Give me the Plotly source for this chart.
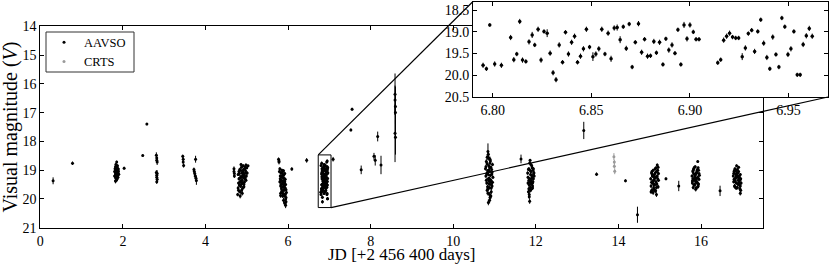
import plotly.graph_objects as go

# ---------------- data (JD - 2456400, V magnitude, 1-sigma error) ----------------
# isolated AAVSO points and small groups
sparse_jd = [0.31, 0.78, 2.03, 2.48, 2.58,
             2.81, 2.82, 2.82, 2.83, 2.81, 2.82, 2.82, 2.83, 2.82, 2.83,
             3.45, 3.46, 3.46, 3.47,
             3.76, 3.72, 3.73, 3.74, 3.75, 3.77, 3.78,
             4.69, 4.69, 4.70, 4.70,
             6.09, 6.45, 7.09, 7.52, 7.55, 7.77, 8.08, 8.11, 8.17, 8.25,
             8.59, 8.59, 8.60, 8.60, 8.59, 8.60,
             11.64, 13.16, 13.47, 14.17, 14.46, 15.15, 15.46, 16.46]
sparse_mag = [19.37, 18.76, 18.93, 18.49, 17.40,
              18.48, 18.58, 18.66, 18.72, 19.08, 19.18, 19.25, 19.32, 19.40, 19.12,
              18.52, 18.62, 18.72, 18.84,
              18.62, 18.98, 19.05, 19.12, 19.20, 19.28, 19.36,
              18.95, 19.05, 19.12, 19.20,
              18.96, 18.66, 18.62, 17.60, 16.88, 18.99, 18.52, 18.66, 17.83, 18.82,
              16.36, 16.56, 16.79, 17.00, 17.72, 17.86,
              18.61, 17.62, 19.14, 19.37, 20.55, 19.30, 19.55, 19.72]
sparse_err = [0.12, 0.06, 0.05, 0.04, 0.04,
              0.10, 0.12, 0.08, 0.10, 0.08, 0.10, 0.08, 0.10, 0.08, 0.12,
              0.06, 0.07, 0.06, 0.07,
              0.12, 0.07, 0.08, 0.07, 0.08, 0.12, 0.15,
              0.08, 0.07, 0.08, 0.07,
              0.06, 0.08, 0.08, 0.05, 0.05, 0.15, 0.12, 0.18, 0.17, 0.32,
              0.72, 0.50, 0.60, 0.90, 1.00, 0.60,
              0.15, 0.30, 0.06, 0.05, 0.28, 0.05, 0.18, 0.18]

# night around JD 1.85
n1_jd = [1.80, 1.81, 1.81, 1.82, 1.82, 1.83, 1.83, 1.83, 1.84, 1.84,
         1.84, 1.85, 1.85, 1.85, 1.86, 1.86, 1.86, 1.87, 1.87, 1.87,
         1.88, 1.88, 1.89, 1.89, 1.90, 1.80, 1.82, 1.85, 1.88, 1.84]
n1_mag = [19.05, 18.95, 19.20, 19.10, 18.88, 19.28, 19.02, 18.80, 19.15, 19.35,
          18.98, 19.08, 18.72, 19.22, 19.12, 18.92, 19.30, 19.00, 19.18, 18.85,
          19.10, 19.25, 19.05, 18.96, 19.14, 19.20, 19.38, 18.90, 19.02, 19.12]
n1_err = [0.06, 0.05, 0.07, 0.06, 0.05, 0.08, 0.06, 0.05, 0.06, 0.07,
          0.05, 0.06, 0.05, 0.07, 0.06, 0.05, 0.08, 0.06, 0.06, 0.05,
          0.06, 0.07, 0.06, 0.05, 0.06, 0.07, 0.08, 0.05, 0.06, 0.06]

# night around JD 4.9
n4_jd = [4.78, 4.79, 4.80, 4.81, 4.82, 4.83, 4.84, 4.85, 4.86, 4.87,
         4.88, 4.89, 4.90, 4.91, 4.92, 4.93, 4.94, 4.95, 4.96, 4.97,
         4.98, 4.99, 5.00, 5.01, 4.80, 4.82, 4.84, 4.86, 4.88, 4.90,
         4.92, 4.94, 4.96, 4.98, 4.81, 4.83, 4.85, 4.87, 4.89, 4.91,
         4.93, 4.95, 4.79, 4.84, 4.86, 4.90, 5.03, 4.97, 4.88, 4.92]
n4_mag = [19.85, 19.62, 19.45, 19.30, 19.12, 18.98, 19.40, 19.55, 19.22, 18.90,
          19.68, 19.35, 19.05, 18.85, 19.25, 19.50, 19.15, 18.95, 19.30, 19.08,
          18.82, 19.20, 18.92, 19.10, 19.70, 19.52, 19.75, 19.38, 19.10, 19.62,
          18.98, 19.42, 18.88, 19.35, 19.05, 19.28, 19.00, 19.48, 19.80, 19.18,
          19.58, 19.25, 19.15, 19.90, 18.80, 19.45, 18.85, 19.02, 19.25, 19.12]
n4_err = [0.06, 0.07, 0.05, 0.06, 0.08, 0.05, 0.06, 0.07, 0.06, 0.05,
          0.08, 0.06, 0.05, 0.06, 0.07, 0.06, 0.05, 0.06, 0.07, 0.05,
          0.05, 0.06, 0.05, 0.06, 0.08, 0.06, 0.07, 0.06, 0.05, 0.07,
          0.05, 0.06, 0.05, 0.06, 0.05, 0.06, 0.05, 0.07, 0.08, 0.06,
          0.07, 0.06, 0.05, 0.08, 0.05, 0.06, 0.04, 0.05, 0.06, 0.05]

# night around JD 5.9
n5_jd = [5.77, 5.78, 5.79, 5.80, 5.80, 5.81, 5.82, 5.82, 5.83, 5.84,
         5.84, 5.85, 5.85, 5.86, 5.86, 5.87, 5.87, 5.88, 5.88, 5.89,
         5.89, 5.90, 5.90, 5.91, 5.91, 5.92, 5.92, 5.93, 5.93, 5.94,
         5.94, 5.95, 5.95, 5.96, 5.78, 5.81, 5.83, 5.85, 5.87, 5.89,
         5.91, 5.93, 5.95, 5.82, 5.86, 5.90, 5.94, 5.88, 5.84, 5.92]
n5_mag = [18.62, 18.72, 19.05, 18.95, 19.40, 19.20, 19.55, 19.80, 19.10, 19.35,
          19.65, 19.00, 19.48, 19.25, 19.75, 19.90, 19.15, 19.58, 19.38, 20.05,
          19.02, 19.70, 19.28, 19.88, 19.45, 20.15, 19.12, 19.62, 19.85, 20.22,
          19.50, 19.95, 20.10, 19.78, 18.68, 19.30, 19.50, 19.72, 19.42, 19.18,
          19.60, 19.32, 19.68, 19.88, 19.08, 19.52, 20.00, 19.82, 19.22, 19.40]
n5_err = [0.06, 0.08, 0.06, 0.05, 0.07, 0.06, 0.08, 0.07, 0.05, 0.06,
          0.07, 0.05, 0.06, 0.06, 0.08, 0.07, 0.05, 0.06, 0.06, 0.09,
          0.05, 0.07, 0.06, 0.08, 0.06, 0.10, 0.05, 0.07, 0.08, 0.10,
          0.06, 0.08, 0.09, 0.07, 0.06, 0.05, 0.06, 0.07, 0.06, 0.05,
          0.07, 0.06, 0.07, 0.08, 0.05, 0.06, 0.09, 0.07, 0.05, 0.06]

# night around JD 10.9
n10_jd = [10.78, 10.79, 10.80, 10.81, 10.82, 10.83, 10.84, 10.85, 10.86, 10.87,
          10.88, 10.89, 10.90, 10.91, 10.92, 10.93, 10.94, 10.95, 10.96, 10.80,
          10.82, 10.84, 10.86, 10.88, 10.90, 10.92, 10.94, 10.79, 10.81, 10.83,
          10.85, 10.87, 10.89, 10.91, 10.93, 10.95, 10.84, 10.86, 10.88, 10.90,
          10.82, 10.85, 10.87, 10.89, 10.91, 10.83, 10.86, 10.92, 10.88, 10.85]
n10_mag = [18.95, 19.20, 18.70, 19.45, 18.55, 19.10, 18.35, 19.30, 18.85, 19.60,
           19.05, 18.62, 19.40, 18.90, 19.75, 19.15, 19.55, 18.80, 19.25, 19.35,
           18.78, 19.65, 19.00, 19.85, 18.68, 19.50, 19.08, 18.88, 19.12, 19.58,
           18.45, 19.28, 19.95, 19.35, 18.98, 19.42, 19.80, 18.58, 20.05, 19.18,
           19.70, 20.12, 19.48, 18.75, 19.90, 19.02, 19.38, 19.62, 18.92, 19.15]
n10_err = [0.06, 0.07, 0.08, 0.06, 0.10, 0.06, 0.28, 0.07, 0.06, 0.08,
           0.05, 0.09, 0.07, 0.06, 0.08, 0.05, 0.07, 0.06, 0.06, 0.07,
           0.08, 0.07, 0.05, 0.09, 0.08, 0.06, 0.05, 0.07, 0.06, 0.07,
           0.10, 0.06, 0.09, 0.07, 0.05, 0.06, 0.08, 0.09, 0.10, 0.06,
           0.08, 0.10, 0.06, 0.07, 0.09, 0.05, 0.06, 0.07, 0.06, 0.05]

# night around JD 11.9
n11_jd = [11.80, 11.81, 11.82, 11.83, 11.84, 11.85, 11.86, 11.87, 11.88, 11.89,
          11.90, 11.91, 11.92, 11.93, 11.94, 11.95, 11.96, 11.81, 11.83, 11.85,
          11.87, 11.89, 11.91, 11.93, 11.95, 11.82, 11.84, 11.86, 11.88, 11.90,
          11.92, 11.94, 11.84, 11.86, 11.83, 11.85, 11.88, 11.90, 11.87, 11.92]
n11_mag = [19.10, 19.45, 19.75, 18.95, 19.92, 19.30, 18.66, 19.60, 19.05, 19.38,
           18.85, 19.22, 19.55, 19.00, 19.30, 19.12, 19.20, 19.25, 19.65, 20.08,
           19.15, 19.48, 18.92, 19.40, 19.08, 18.98, 19.52, 19.70, 18.80, 19.28,
           19.62, 18.95, 19.85, 19.42, 19.35, 18.75, 19.68, 19.18, 19.02, 19.45]
n11_err = [0.06, 0.07, 0.08, 0.05, 0.09, 0.06, 0.05, 0.07, 0.06, 0.06,
           0.05, 0.06, 0.07, 0.05, 0.06, 0.05, 0.06, 0.06, 0.08, 0.09,
           0.05, 0.07, 0.05, 0.06, 0.05, 0.05, 0.07, 0.08, 0.05, 0.06,
           0.07, 0.05, 0.08, 0.06, 0.06, 0.05, 0.08, 0.06, 0.05, 0.07]

# night around JD 14.9
n14_jd = [14.78, 14.79, 14.80, 14.81, 14.82, 14.83, 14.84, 14.85, 14.86, 14.87,
          14.88, 14.89, 14.90, 14.91, 14.92, 14.93, 14.94, 14.95, 14.96, 14.97,
          14.79, 14.81, 14.83, 14.85, 14.87, 14.89, 14.91, 14.93, 14.95, 14.97,
          14.80, 14.84, 14.88, 14.92, 14.96, 14.82, 14.86, 14.90, 14.94, 14.92]
n14_mag = [19.30, 19.55, 19.10, 19.70, 19.20, 19.45, 19.00, 19.62, 19.35, 19.15,
           19.50, 18.95, 19.25, 19.40, 19.85, 19.05, 18.82, 19.30, 19.58, 19.12,
           19.75, 19.05, 19.38, 19.22, 19.68, 19.10, 18.92, 19.48, 19.00, 19.35,
           19.42, 19.78, 19.28, 19.60, 18.90, 19.15, 19.52, 19.72, 19.20, 19.05]
n14_err = [0.06, 0.07, 0.05, 0.08, 0.06, 0.07, 0.05, 0.07, 0.06, 0.05,
           0.07, 0.05, 0.06, 0.06, 0.08, 0.05, 0.05, 0.06, 0.07, 0.05,
           0.08, 0.05, 0.06, 0.06, 0.08, 0.05, 0.05, 0.07, 0.05, 0.06,
           0.06, 0.08, 0.06, 0.07, 0.05, 0.05, 0.07, 0.08, 0.06, 0.05]

# night around JD 15.9
n15_jd = [15.78, 15.79, 15.80, 15.81, 15.82, 15.83, 15.84, 15.85, 15.86, 15.87,
          15.88, 15.89, 15.90, 15.91, 15.92, 15.93, 15.94, 15.95, 15.96, 15.79,
          15.81, 15.83, 15.85, 15.87, 15.89, 15.91, 15.93, 15.95, 15.80, 15.84,
          15.88, 15.92, 15.82, 15.86, 15.90, 15.94, 15.92, 15.85, 15.89, 15.87]
n15_mag = [19.20, 19.45, 19.05, 19.60, 18.95, 19.35, 19.15, 19.50, 18.88, 19.28,
           19.62, 19.10, 19.40, 18.98, 19.25, 19.55, 19.00, 19.32, 19.18, 19.38,
           19.00, 19.52, 19.22, 19.66, 19.08, 19.45, 18.92, 19.12, 19.30, 18.90,
           19.42, 19.58, 19.12, 19.35, 19.02, 19.48, 18.70, 19.25, 19.30, 19.15]
n15_err = [0.05, 0.06, 0.05, 0.07, 0.05, 0.06, 0.05, 0.07, 0.05, 0.06,
           0.07, 0.05, 0.06, 0.05, 0.06, 0.07, 0.05, 0.06, 0.05, 0.06,
           0.05, 0.07, 0.06, 0.08, 0.05, 0.06, 0.05, 0.05, 0.06, 0.05,
           0.06, 0.07, 0.05, 0.06, 0.05, 0.06, 0.04, 0.06, 0.05, 0.05]

# night around JD 16.9
n16_jd = [16.78, 16.79, 16.80, 16.81, 16.82, 16.83, 16.84, 16.85, 16.86, 16.87,
          16.88, 16.89, 16.90, 16.91, 16.92, 16.93, 16.94, 16.95, 16.96, 16.97,
          16.79, 16.81, 16.83, 16.85, 16.87, 16.89, 16.91, 16.93, 16.95, 16.80,
          16.84, 16.88, 16.92, 16.96, 16.82, 16.86, 16.90, 16.94, 16.85, 16.95]
n16_mag = [19.20, 19.40, 19.05, 19.55, 18.95, 19.30, 19.15, 19.45, 18.85, 19.25,
           19.60, 19.10, 19.35, 18.90, 19.50, 19.20, 19.65, 19.80, 19.30, 19.45,
           19.12, 19.00, 19.38, 19.62, 19.18, 19.48, 19.05, 19.28, 19.55, 19.32,
           19.25, 18.98, 19.42, 19.70, 19.58, 19.10, 19.22, 19.35, 19.02, 19.15]
n16_err = [0.05, 0.06, 0.05, 0.07, 0.05, 0.06, 0.05, 0.06, 0.05, 0.06,
           0.07, 0.05, 0.06, 0.05, 0.07, 0.05, 0.07, 0.08, 0.06, 0.06,
           0.05, 0.05, 0.06, 0.07, 0.05, 0.06, 0.05, 0.06, 0.07, 0.06,
           0.05, 0.05, 0.06, 0.08, 0.07, 0.05, 0.06, 0.06, 0.05, 0.05]

# night around JD 6.88 (the one shown enlarged in the inset)
inset_jd = [6.7951, 6.7968, 6.7985, 6.8010, 6.8044, 6.8091, 6.8107, 6.8122, 6.8137, 6.8151,
            6.8168, 6.8184, 6.8200, 6.8213, 6.8230, 6.8245, 6.8260, 6.8276, 6.8291, 6.8306,
            6.8321, 6.8337, 6.8354, 6.8369, 6.8384, 6.8400, 6.8415, 6.8430, 6.8445, 6.8460,
            6.8475, 6.8491, 6.8508, 6.8523, 6.8538, 6.8553, 6.8569, 6.8585, 6.8600, 6.8616,
            6.8631, 6.8646, 6.8662, 6.8677, 6.8692, 6.8707, 6.8723, 6.8739, 6.8755, 6.8770,
            6.8785, 6.8800, 6.8817, 6.8830, 6.8846, 6.8863, 6.8878, 6.8893, 6.8909, 6.8924,
            6.8939, 6.8954, 6.8970, 6.8985, 6.9000, 6.9017, 6.9031, 6.9046, 6.9141, 6.9156,
            6.9171, 6.9186, 6.9201, 6.9216, 6.9232, 6.9247, 6.9265, 6.9281, 6.9296, 6.9313,
            6.9328, 6.9344, 6.9359, 6.9374, 6.9390, 6.9405, 6.9420, 6.9436, 6.9451, 6.9466,
            6.9481, 6.9497, 6.9512, 6.9527, 6.9544, 6.9559, 6.9574, 6.9590, 6.9605, 6.9620]
inset_mag = [19.77, 19.85, 18.84, 19.74, 19.77, 19.13, 19.64, 19.51, 18.76, 19.65,
             19.68, 19.23, 19.07, 19.30, 18.94, 19.65, 18.99, 19.03, 19.49, 19.94,
             20.10, 19.30, 19.70, 19.01, 19.51, 19.24, 19.10, 19.70, 19.56, 19.39,
             18.94, 19.35, 19.57, 19.51, 19.39, 18.94, 19.51, 19.03, 19.62, 18.91,
             18.90, 19.18, 18.88, 19.38, 18.82, 19.81, 19.24, 18.81, 19.47, 19.17,
             19.56, 19.55, 19.22, 19.48, 19.24, 19.75, 19.16, 19.42, 19.30, 19.49,
             18.95, 19.75, 18.84, 19.16, 18.84, 19.00, 19.17, 19.17, 19.71, 19.64,
             19.19, 19.10, 19.03, 19.12, 19.14, 19.14, 19.57, 19.37, 19.04, 18.96,
             19.45, 18.99, 18.72, 19.26, 19.59, 19.85, 19.12, 19.52, 19.81, 18.68,
             18.88, 19.52, 19.39, 18.99, 19.99, 19.99, 19.29, 19.09, 18.92, 19.10]
inset_err = [0.06, 0.05, 0.04, 0.06, 0.06, 0.06, 0.06, 0.05, 0.06, 0.06,
             0.05, 0.06, 0.07, 0.05, 0.06, 0.06, 0.05, 0.09, 0.06, 0.06,
             0.06, 0.06, 0.05, 0.05, 0.06, 0.06, 0.06, 0.05, 0.06, 0.06,
             0.06, 0.05, 0.10, 0.06, 0.06, 0.06, 0.05, 0.06, 0.07, 0.06,
             0.07, 0.08, 0.05, 0.06, 0.05, 0.05, 0.05, 0.06, 0.06, 0.05,
             0.06, 0.05, 0.06, 0.05, 0.06, 0.05, 0.05, 0.06, 0.06, 0.05,
             0.05, 0.05, 0.07, 0.06, 0.06, 0.05, 0.05, 0.05, 0.05, 0.05,
             0.06, 0.06, 0.06, 0.05, 0.05, 0.05, 0.08, 0.06, 0.05, 0.05,
             0.06, 0.05, 0.05, 0.06, 0.06, 0.05, 0.06, 0.05, 0.05, 0.05,
             0.05, 0.06, 0.06, 0.05, 0.05, 0.05, 0.06, 0.06, 0.06, 0.06]

# CRTS
crts_jd = [13.89, 13.90, 13.90, 13.91]
crts_mag = [18.53, 18.72, 18.86, 19.04]
crts_err = [0.12, 0.08, 0.08, 0.10]

# axis setup
main_xrange = [0, 17.5]
main_yrange = [21, 14]
main_xticks = [0, 2, 4, 6, 8, 10, 12, 14, 16]
main_yticks = [14, 15, 16, 17, 18, 19, 20, 21]
inset_xrange = [6.79, 6.97]
inset_yrange = [20.5, 18.3]
inset_xticks = [6.80, 6.85, 6.90, 6.95]
inset_yticks = [18.5, 19.0, 19.5, 20.0, 20.5]
zoom_box = [6.73, 7.04, 18.47, 20.30]  # x0, x1, y0, y1 in data units

# ---------------- figure ----------------
W, H = 830, 267
FONT = "Liberation Serif"


def px_dom(a, b, size, flip=False):
    if flip:
        return [1 - b / size, 1 - a / size]
    return [a / size, b / size]


main_dx = px_dom(40.3, 763, W)
main_dy = px_dom(26.3, 227.7, H, flip=True)
ins_dx = px_dom(473, 828, W)
ins_dy = px_dom(1.5, 97, H, flip=True)

aavso_jd = n1_jd + n4_jd + n5_jd + inset_jd + n10_jd + n11_jd + n14_jd + n15_jd + n16_jd + sparse_jd
aavso_mag = n1_mag + n4_mag + n5_mag + inset_mag + n10_mag + n11_mag + n14_mag + n15_mag + n16_mag + sparse_mag
aavso_err = n1_err + n4_err + n5_err + inset_err + n10_err + n11_err + n14_err + n15_err + n16_err + sparse_err

fig = go.Figure()
fig.add_trace(go.Scatter(x=aavso_jd, y=aavso_mag, mode='markers', name='AAVSO',
                         marker=dict(color='black', size=3),
                         error_y=dict(type='data', array=aavso_err, color='black', thickness=1, width=0),
                         xaxis='x', yaxis='y'))
fig.add_trace(go.Scatter(x=crts_jd, y=crts_mag, mode='markers', name='CRTS',
                         marker=dict(color='#9a9a9a', size=3),
                         error_y=dict(type='data', array=crts_err, color='#9a9a9a', thickness=1, width=0),
                         xaxis='x', yaxis='y'))
fig.add_trace(go.Scatter(x=inset_jd, y=inset_mag, mode='markers', showlegend=False,
                         marker=dict(color='black', size=3.5),
                         error_y=dict(type='data', array=inset_err, color='black', thickness=1, width=0),
                         xaxis='x2', yaxis='y2'))

axis_common = dict(showline=True, linecolor='black', linewidth=1, mirror='ticks', ticks='inside',
                   ticklen=4, tickcolor='black', showgrid=False, zeroline=False, automargin=False,
                   tickfont=dict(family=FONT, size=14, color='black'))

fig.update_layout(
    width=W, height=H,
    margin=dict(l=0, r=0, t=0, b=0, autoexpand=False),
    font=dict(family=FONT, size=14, color='black'),
    paper_bgcolor='white', plot_bgcolor='white',
    xaxis=dict(domain=main_dx, range=main_xrange, tickvals=main_xticks, **axis_common),
    yaxis=dict(domain=main_dy, range=main_yrange, tickvals=main_yticks, **axis_common),
    xaxis2=dict(domain=ins_dx, range=inset_xrange, tickvals=inset_xticks, tickformat='.2f',
                anchor='y2', **axis_common),
    yaxis2=dict(domain=ins_dy, range=inset_yrange, tickvals=inset_yticks, tickformat='.1f',
                anchor='x2', **axis_common),
    legend=dict(x=44 / W, y=1 - 27.5 / H, xanchor='left', yanchor='top',
                borderwidth=0, bgcolor='rgba(0,0,0,0)',
                font=dict(family=FONT, size=12.5, color='black'), tracegroupgap=0),
    showlegend=True,
)

# legend frame
fig.add_shape(type='rect', xref='paper', yref='paper', layer='below',
              x0=46 / W, x1=134 / W, y0=1 - 72 / H, y1=1 - 32 / H,
              fillcolor='white', line=dict(color='#333333', width=1))

# axis titles
fig.add_annotation(text='JD [+2 456 400 days]', xref='paper', yref='paper',
                   x=(main_dx[0] + main_dx[1]) / 2, y=1 - 254.5 / H, showarrow=False,
                   xanchor='center', yanchor='middle', font=dict(family=FONT, size=17, color='black'))
fig.add_annotation(text='Visual magnitude (<i>V</i>)', xref='paper', yref='paper',
                   x=10.5 / W, y=(main_dy[0] + main_dy[1]) / 2, showarrow=False, textangle=-90,
                   xanchor='center', yanchor='middle', font=dict(family=FONT, size=20, color='black'))


def main_to_paper(x, y):
    fx = (x - main_xrange[0]) / (main_xrange[1] - main_xrange[0])
    fy = (y - main_yrange[1]) / (main_yrange[0] - main_yrange[1])
    return (main_dx[0] + fx * (main_dx[1] - main_dx[0]),
            main_dy[1] - fy * (main_dy[1] - main_dy[0]))


bx0, bx1, by0, by1 = zoom_box
# white backing for the inset so the main frame does not show through
fig.add_shape(type='rect', xref='x2', yref='y2', layer='below',
              x0=inset_xrange[0], x1=inset_xrange[1], y0=inset_yrange[1], y1=inset_yrange[0],
              fillcolor='white', line=dict(width=0))
# zoom box in the main panel
fig.add_shape(type='rect', xref='x', yref='y', x0=bx0, x1=bx1, y0=by0, y1=by1,
              line=dict(color='black', width=1))
# connectors to the inset corners
p_tl = main_to_paper(bx0, by0)
p_br = main_to_paper(bx1, by1)
fig.add_shape(type='line', xref='paper', yref='paper', x0=p_tl[0], y0=p_tl[1],
              x1=ins_dx[0], y1=ins_dy[1], line=dict(color='black', width=1.2))
fig.add_shape(type='line', xref='paper', yref='paper', x0=p_br[0], y0=p_br[1],
              x1=ins_dx[1], y1=ins_dy[0], line=dict(color='black', width=1.2))

# the page body has a default 8px margin; drop it so the figure fills the window
fig.write_html("out.html", config={'displayModeBar': False},
               post_script="document.body.style.margin='0';document.body.style.overflow='hidden';")
